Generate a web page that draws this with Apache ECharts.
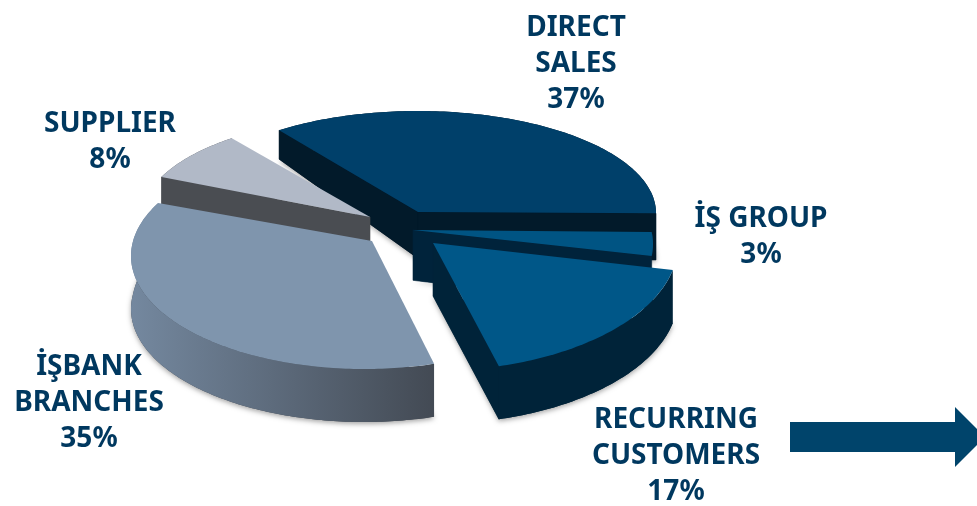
<!DOCTYPE html>
<html><head><meta charset="utf-8">
<style>html,body{margin:0;padding:0;background:#fff}#c{width:977px;height:506px}</style>
<script src="https://cdn.jsdelivr.net/npm/echarts@6/dist/echarts.min.js"></script>
</head><body><div id="c"></div>
<script>
// ---- data ----
const categories = ['DIRECT\nSALES', 'İŞ GROUP', 'RECURRING\nCUSTOMERS', 'İŞBANK\nBRANCHES', 'SUPPLIER'];
const shares = [37, 3, 17, 35, 8];

// ---- projection of each exploded slice (perspective ellipse + hub) ----
const START_ANGLE = 133;
const projection = [
  {cx:418, cy:213, rx:238, ry:102, hx:418, hy:212, rot:-7.3, k:0.945},
  {cx:415, cy:244, rx:238, ry:115, hx:413, hy:230, rot:6.2,  k:1.11},
  {cx:432, cy:244, rx:246, ry:127, hx:433, hy:243, rot:-0.8, k:1.02},
  {cx:364, cy:256, rx:233, ry:113, hx:372, hy:241, rot:-0.3, k:1.075},
  {cx:370, cy:217, rx:228, ry:99,  hx:370, hy:217, rot:-5.7, k:1.0}
];
const palette = [
  {top:'#00406a', cut:'#021a2a', wall:['#021a2a','#021a2a']},
  {top:'#005483', cut:'#00233b', wall:['#00233b','#00233b']},
  {top:'#005788', cut:'#002339', wall:['#002339','#002339']},
  {top:'#7f95ad', cut:'#434a54', wall:['#74889f','#434a54']},
  {top:'#b1b9c7', cut:'#4a4d52', wall:['#4a4d52','#4a4d52']}
];
const labelAnchors = [[576,64],[761,237.5],[676,456],[89,403],[110,142.5]];
const drawOrder = [0,1,4,3,2];
const depthAt = y => Math.min(53, 29 + Math.max(0, y - 133) * 0.22);

const total = shares.reduce((a,b)=>a+b,0);
const starts = []; shares.reduce((acc,v,i)=>{starts[i]=acc; return acc - v/total*360;}, START_ANGLE);

function renderSlice(params, api){
  const i = api.value(0), v = api.value(1), p = projection[i], c = palette[i];
  const sweep = v/total*360*p.k, a0 = starts[i]+p.rot;
  const arc = [];
  const n = Math.max(8, Math.round(sweep));
  for(let s=0;s<=n;s++){
    const t=(a0 - sweep*s/n)*Math.PI/180;
    arc.push([p.cx+p.rx*Math.cos(t), p.cy-p.ry*Math.sin(t)]);
  }
  const down = q=>[q[0], q[1]+depthAt(q[1])];
  const hub=[p.hx,p.hy], A=arc[0], B=arc[arc.length-1], M=arc[n>>1];
  const children=[];
  const shadow={shadowBlur:5,shadowColor:'rgba(0,0,0,0.35)',shadowOffsetY:2,shadowOffsetX:0};
  // bottom face carrying the soft ground shadow
  children.push({type:'polygon',shape:{points:[hub].concat(arc).map(down)},
    style:Object.assign({fill:c.cut},shadow)});
  // cut faces that look towards the viewer, back one first
  const faces = E => {
    const lineY = hub[1] + (E[1]-hub[1])*(M[0]-hub[0])/(E[0]-hub[0]);
    return M[1] < lineY;
  };
  [A,B].filter(faces).sort((e,f)=>e[1]-f[1]).forEach(E=>children.push({type:'polygon',
    shape:{points:[hub,E,down(E),down(hub)]},style:{fill:c.cut,stroke:c.cut,lineWidth:0.6}}));
  // outer wall
  children.push({type:'polygon',shape:{points:arc.concat(arc.map(down).reverse())},
    style:{fill:new echarts.graphic.LinearGradient(0,0,1,0,[
      {offset:0,color:c.wall[0]},{offset:1,color:c.wall[1]}])}});
  // top
  children.push({type:'polygon',shape:{points:[hub].concat(arc)},style:{fill:c.top}});
  // label
  const l=labelAnchors[i];
  children.push({type:'text',style:{x:l[0],y:l[1],text:categories[i]+'\n'+v+'%',align:'center',verticalAlign:'middle',
    fontFamily:'"Noto Sans"',fontWeight:'bold',fontSize:28,lineHeight:36,fill:'#00385f'}});
  return {type:'group',children};
}

const chart = echarts.init(document.getElementById('c'),null,{renderer:'canvas'});
chart.setOption({
  animation:false,
  backgroundColor:'#fff',
  series:[{type:'custom',coordinateSystem:'none',renderItem:renderSlice,silent:true,
    data:drawOrder.map(i=>[i,shares[i]])}],
  graphic:[{type:'polygon',silent:true,
    shape:{points:[[790,422],[955,422],[955,407],[985,437],[955,467],[955,452],[790,452]]},
    style:{fill:'#00446b'}}]
});
</script></body></html>
